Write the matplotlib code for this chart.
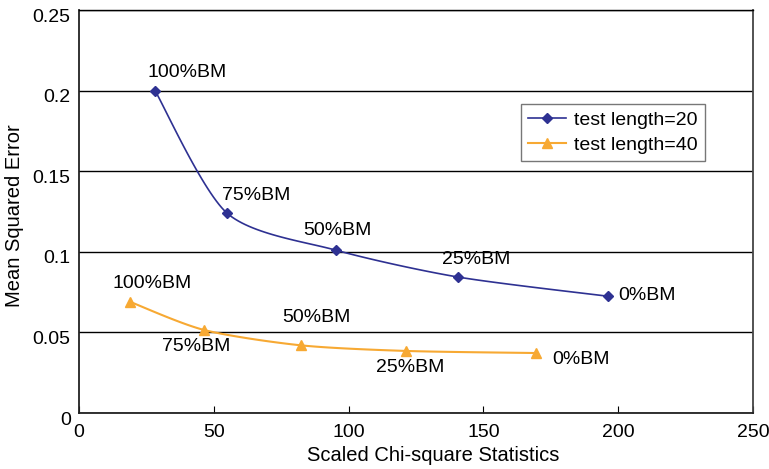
import numpy as np
import matplotlib
matplotlib.use("Agg")
import matplotlib.pyplot as plt
import matplotlib.transforms as mtransforms

plt.rcParams['font.family'] = ['Liberation Sans', 'DejaVu Sans']

# data
labels = ["100%BM", "75%BM", "50%BM", "25%BM", "0%BM"]
chi_20 = [28.2, 54.9, 95.3, 140.4, 196.3]
mse_20 = [0.200, 0.124, 0.101, 0.0844, 0.0724]
chi_40 = [18.9, 46.4, 82.2, 121.3, 169.5]
mse_40 = [0.069, 0.0515, 0.042, 0.0385, 0.0372]

# label offsets (pixels) and alignment for each point
offs_20 = [(32, 18, 'center'), (29, 18, 'center'), (1, 20, 'center'),
           (19, 17, 'center'), (10, 1, 'left')]
offs_40 = [(22, 18, 'center'), (-8, -17, 'center'), (16, 28, 'center'),
           (4, -17, 'center'), (16, -6, 'left')]

BLUE = '#2E3192'
ORANGE = '#F7A933'
FS = 14


def smooth(xs, ys, n=30, k=0.8):
    """Catmull-Rom style curve through the points (like Excel's smoothed line)"""
    P = np.column_stack([xs, ys])
    P = np.vstack([P[0], P, P[-1]])
    out = []
    t = np.linspace(0, 1, n)[:, None]
    for i in range(1, len(P) - 2):
        p0, p1, p2, p3 = P[i - 1], P[i], P[i + 1], P[i + 2]
        m1 = k * (p2 - p0) / 2
        m2 = k * (p3 - p1) / 2
        h00 = 2 * t ** 3 - 3 * t ** 2 + 1
        h10 = t ** 3 - 2 * t ** 2 + t
        h01 = -2 * t ** 3 + 3 * t ** 2
        h11 = t ** 3 - t ** 2
        out.append(h00 * p1 + h10 * m1 + h01 * p2 + h11 * m2)
    out = np.vstack(out)
    return out[:, 0], out[:, 1]


fig = plt.figure(figsize=(7.69, 4.69), dpi=100)
ax = fig.add_axes([79 / 769, 1 - 413 / 469, (753 - 79) / 769, (413 - 10) / 469])

sx, sy = smooth(chi_20, mse_20)
ax.plot(sx, sy, color=BLUE, lw=1.2, zorder=3)
ax.plot(chi_20, mse_20, ls='none', marker='D', ms=5, color=BLUE, zorder=4)
sx, sy = smooth(chi_40, mse_40)
ax.plot(sx, sy, color=ORANGE, lw=1.5, zorder=3)
ax.plot(chi_40, mse_40, ls='none', marker='^', ms=7, color=ORANGE, zorder=4)

# legend proxies
ax.plot([], [], color=BLUE, lw=1.2, marker='D', ms=5, label='test length=20')
ax.plot([], [], color=ORANGE, lw=1.5, marker='^', ms=7, label='test length=40')

for x, y, lab, (dx, dy, ha) in zip(chi_20, mse_20, labels, offs_20):
    ax.annotate(lab, (x, y), xytext=(dx, dy), textcoords='offset pixels',
                ha=ha, va='center', fontsize=FS)
for x, y, lab, (dx, dy, ha) in zip(chi_40, mse_40, labels, offs_40):
    ax.annotate(lab, (x, y), xytext=(dx, dy), textcoords='offset pixels',
                ha=ha, va='center', fontsize=FS)

ax.set_xlim(0, 250)
ax.set_ylim(0, 0.25)
ax.set_xticks([0, 50, 100, 150, 200, 250])
ax.set_yticks([0, 0.05, 0.1, 0.15, 0.2, 0.25])
ax.set_yticklabels(['0', '0.05', '0.1', '0.15', '0.2', '0.25'])
ax.grid(axis='y', color='black', lw=1.0)
ax.set_axisbelow(True)
ax.tick_params(axis='x', direction='in', length=5, pad=8, labelsize=FS)
ax.tick_params(axis='y', length=0, pad=6, labelsize=FS)

# Excel puts the value labels a little below their gridline
shift = mtransforms.ScaledTranslation(0, -5 / 100, fig.dpi_scale_trans)
for lbl in ax.get_yticklabels():
    lbl.set_transform(lbl.get_transform() + shift)

for side in ['left', 'bottom']:
    ax.spines[side].set_linewidth(1.3)
    ax.spines[side].set_color('#222222')
ax.spines['right'].set_color('#444444')
ax.spines['right'].set_linewidth(1.3)
ax.spines['top'].set_linewidth(1.0)

ax.set_xlabel('Scaled Chi-square Statistics', fontsize=14.5)
ax.set_ylabel('Mean Squared Error', fontsize=14.5)
ax.xaxis.set_label_coords((433.5 - 79) / 674, -(455 - 413) / 403)
ax.yaxis.set_label_coords(-(79 - 15) / 674, (413 - 215.5) / 403)
ax.xaxis.label.set_va('center')
ax.yaxis.label.set_va('center')

leg = ax.legend(loc='upper left', bbox_to_anchor=((520.7 - 79) / 674, 1 - (104.3 - 10) / 403),
                fontsize=FS, frameon=True, fancybox=False, handlelength=2.0,
                borderpad=0.35, labelspacing=0.4, handletextpad=0.4, borderaxespad=0)
leg.get_frame().set_edgecolor('#555555')
leg.get_frame().set_linewidth(1.0)

fig.savefig('out.png', dpi=100)
